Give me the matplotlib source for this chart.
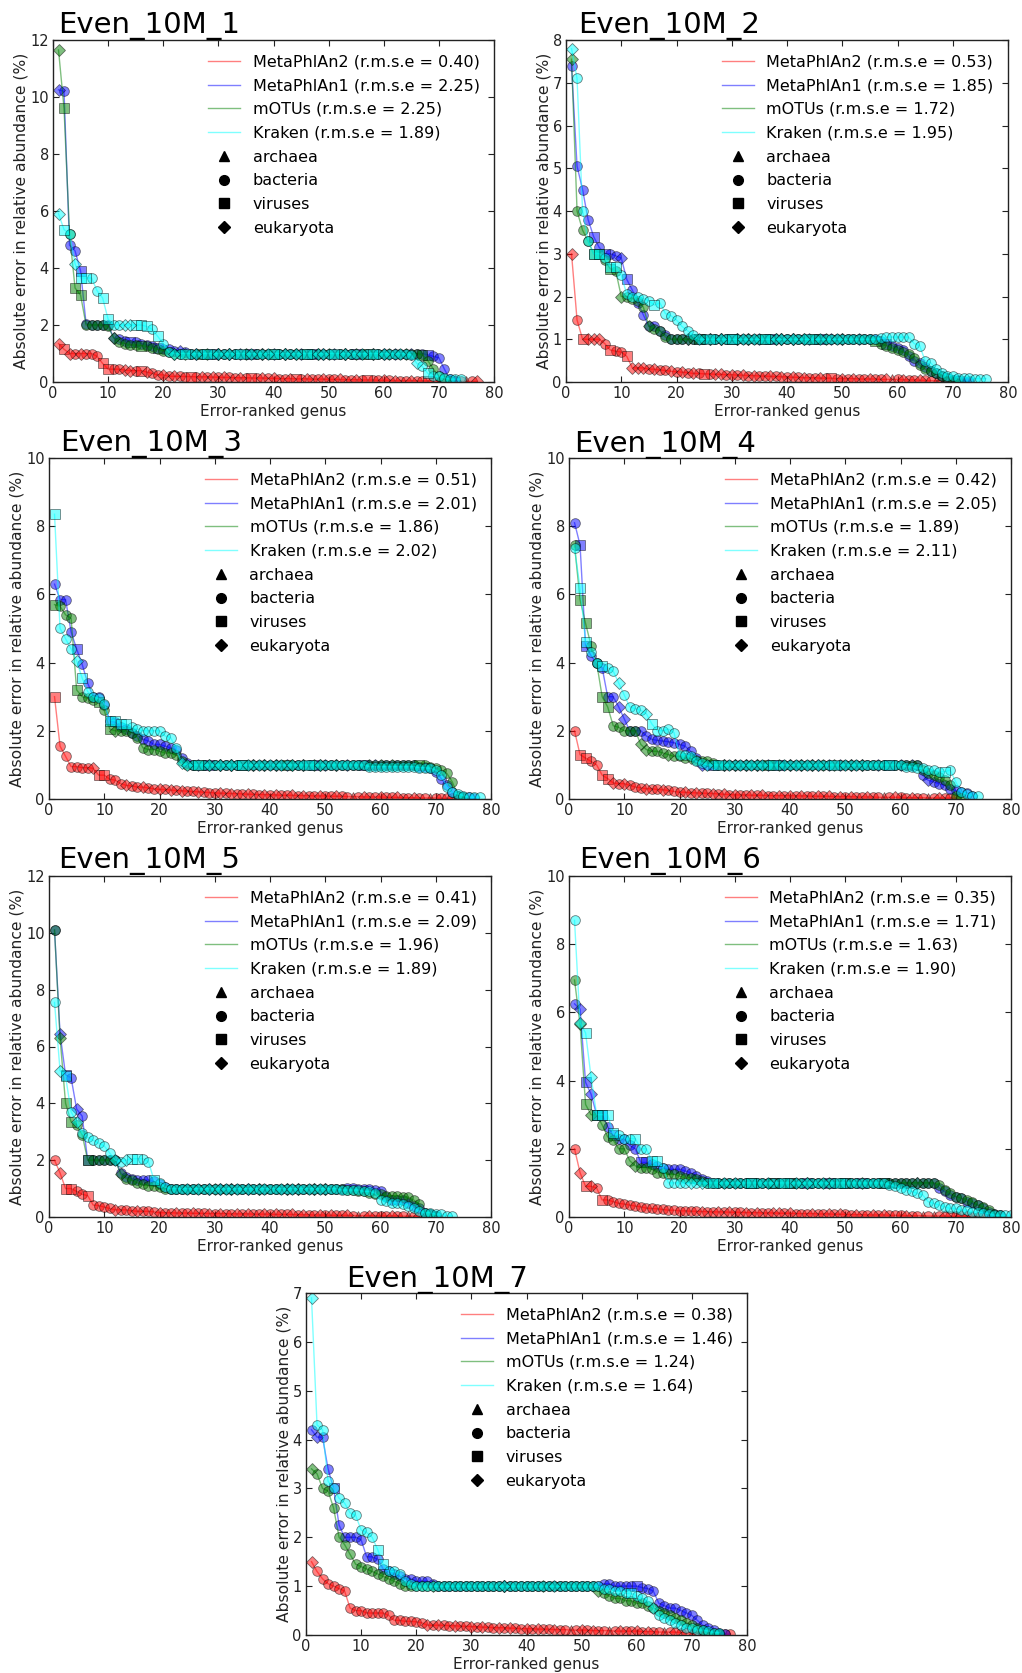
"""
Error-ranked genus plots for the seven Even_10M samples

Absolute error in relative abundance for four profilers, marker = kingdom
"""

import matplotlib
matplotlib.use('Agg')
import matplotlib.pyplot as plt
from matplotlib.lines import Line2D
import numpy as np


# ---------------------------------------------------------------- data
tools = ['MetaPhlAn2', 'MetaPhlAn1', 'mOTUs', 'Kraken']
kingdoms = ['archaea', 'bacteria', 'viruses', 'eukaryota']
kingdom_codes = ['a', 'b', 's', 'e']

sample_names = ['Even_10M_1', 'Even_10M_2', 'Even_10M_3', 'Even_10M_4',
                'Even_10M_5', 'Even_10M_6', 'Even_10M_7']
rmse = [
    [0.40, 2.25, 2.25, 1.89],
    [0.53, 1.85, 1.72, 1.95],
    [0.51, 2.01, 1.86, 2.02],
    [0.42, 2.05, 1.89, 2.11],
    [0.41, 2.09, 1.96, 1.89],
    [0.35, 1.71, 1.63, 1.90],
    [0.38, 1.46, 1.24, 1.64],
]
y_max = [12, 8, 10, 10, 12, 10, 7]
y_step = [2, 1, 2, 2, 2, 2, 1]

# Even_10M_1
p1_mpa2 = [
    1.35, 1.15, 1.0, 1.0, 1.0, 1.0, 1.0, 0.9, 0.65, 0.45,
    0.45, 0.45, 0.42, 0.4, 0.4, 0.4, 0.35, 0.3, 0.25, 0.25,
    0.2, 0.2, 0.2, 0.19, 0.19, 0.18, 0.18, 0.18, 0.17, 0.17,
    0.16, 0.16, 0.15, 0.15, 0.15, 0.14, 0.14, 0.14, 0.13, 0.13,
    0.12, 0.12, 0.12, 0.11, 0.11, 0.11, 0.1, 0.1, 0.1, 0.09,
    0.09, 0.09, 0.08, 0.08, 0.08, 0.07, 0.07, 0.07, 0.06, 0.06,
    0.06, 0.05, 0.05, 0.05, 0.05, 0.04, 0.04, 0.04, 0.04, 0.03,
    0.03, 0.03, 0.03, 0.02, 0.02, 0.02, 0.02,
]
p1_mpa1 = [
    10.25, 10.2, 4.8, 4.6, 3.9, 2.05, 2.0, 2.0, 2.0, 2.0,
    1.55, 1.5, 1.45, 1.4, 1.4, 1.35, 1.3, 1.25, 1.2, 1.15,
    1.15, 1.1, 1.1, 1.05, 1, 1, 1, 1, 1, 1,
    1, 1, 1, 1, 1, 1, 1, 1, 1, 1,
    1, 1, 1, 1, 1, 1, 1, 1, 1, 1,
    1, 1, 1, 1, 1, 1, 1, 1, 1, 1,
    1, 1, 1, 1, 1, 1, 1.0, 0.95, 0.9, 0.85,
    0.45, 0.1, 0.05,
]
p1_motus = [
    11.65, 9.6, 5.2, 3.3, 3.05, 2.0, 2.0, 2.0, 2.0, 1.95,
    1.55, 1.4, 1.35, 1.3, 1.3, 1.28, 1.25, 1.2, 1.15, 1.1,
    1.05, 1, 1, 1, 1, 1, 1, 1, 1, 1,
    1, 1, 1, 1, 1, 1, 1, 1, 1, 1,
    1, 1, 1, 1, 1, 1, 1, 1, 1, 1,
    1, 1, 1, 1, 1, 1, 1, 1, 1, 1,
    1, 1, 1, 1, 1, 1, 0.95, 0.75, 0.45, 0.2,
    0.1, 0.05,
]
p1_kraken = [
    5.9, 5.35, 5.2, 4.15, 3.65, 3.65, 3.65, 3.2, 2.95, 2.2,
    2.0, 2.0, 2.0, 2.0, 2.0, 2.0, 1.95, 1.85, 1.6, 1.35,
    1.05, 1, 1, 1, 1, 1, 1, 1, 1, 1,
    1, 1, 1, 1, 1, 1, 1, 1, 1, 1,
    1, 1, 1, 1, 1, 1, 1, 1, 1, 1,
    1, 1, 1, 1, 1, 1, 1, 1, 1, 1,
    1, 1, 1, 1, 0.95, 0.65, 0.55, 0.3, 0.2, 0.2,
    0.15, 0.1, 0.1, 0.1,
]
p1_kinds = [
    'esebebbbss bbeebsebbe bebbsbebeb ebbebsbebe bbesbebbeb bebbebsbbe bebbebbsba bbebabe',
    'ebbbsbbbbb ebbsbbbbsb bbebbebbse bebebsbebe bebbebsbeb ebebsbbebe bebbebbsbb bbb',
    'esbssbbbbb ebbbbsbbbb bebebbsebe bebbebbebs bebebsbebe bbebebsebb ebbebbsbbb bb',
    'esbessbbss bbeesssbsb bebsbebsbe bebsbebbes bebebsbeeb sbebbebsbe bbebbebsbb bbbb',
]

# Even_10M_2
p2_mpa2 = [
    3.0, 1.45, 1.0, 1.0, 1.0, 1.0, 0.9, 0.75, 0.72, 0.7,
    0.6, 0.33, 0.33, 0.33, 0.3, 0.3, 0.28, 0.27, 0.25, 0.24,
    0.23, 0.22, 0.2, 0.2, 0.19, 0.19, 0.18, 0.18, 0.17, 0.17,
    0.16, 0.16, 0.15, 0.15, 0.14, 0.14, 0.13, 0.13, 0.12, 0.12,
    0.11, 0.11, 0.1, 0.1, 0.1, 0.09, 0.09, 0.09, 0.08, 0.08,
    0.08, 0.08, 0.07, 0.07, 0.07, 0.07, 0.06, 0.06, 0.06, 0.06,
    0.05, 0.05, 0.05, 0.04, 0.04, 0.03, 0.03, 0.03, 0.02, 0.02,
    0.02, 0.01, 0.01,
]
p2_mpa1 = [
    7.4, 5.05, 4.5, 3.8, 3.4, 3.15, 3.0, 3.0, 2.95, 2.9,
    2.4, 2.15, 1.85, 1.57, 1.3, 1.3, 1.2, 1.1, 1.0, 1.0,
    1, 1, 1, 1, 1, 1, 1, 1, 1, 1,
    1, 1, 1, 1, 1, 1, 1, 1, 1, 1,
    1, 1, 1, 1, 1, 1, 1, 1, 1, 1,
    1, 1, 1, 1, 1, 1, 0.95, 0.9, 0.85, 0.8,
    0.75, 0.6, 0.5, 0.45, 0.35, 0.25, 0.2, 0.15, 0.1, 0.05,
    0.05, 0.03, 0.02,
]
p2_motus = [
    7.55, 4.0, 3.55, 3.3, 3.0, 3.0, 2.85, 2.65, 2.6, 2.0,
    2.0, 1.95, 1.9, 1.75, 1.3, 1.25, 1.2, 1.05, 1.0, 1.0,
    1, 1, 1, 1, 1, 1, 1, 1, 1, 1,
    1, 1, 1, 1, 1, 1, 1, 1, 1, 1,
    1, 1, 1, 1, 1, 1, 1, 1, 1, 1,
    1, 1, 1, 1, 1, 0.95, 0.9, 0.85, 0.8, 0.75,
    0.7, 0.65, 0.55, 0.4, 0.3, 0.25, 0.2, 0.15, 0.1, 0.05,
    0.02,
]
p2_kraken = [
    7.8, 7.1, 4.0, 3.3, 3.0, 3.0, 2.9, 2.7, 2.7, 2.5,
    2.05, 2.0, 2.0, 1.95, 1.9, 1.8, 1.85, 1.6, 1.55, 1.45,
    1.3, 1.2, 1.1, 1.0, 1, 1, 1, 1, 1, 1,
    1, 1, 1, 1, 1, 1, 1, 1, 1, 1,
    1, 1, 1, 1, 1, 1, 1, 1, 1, 1,
    1, 1, 1, 1, 1, 1, 1.02, 1.05, 1.05, 1.05,
    1.05, 1.05, 0.9, 0.85, 0.5, 0.45, 0.3, 0.2, 0.15, 0.15,
    0.1, 0.1, 0.1, 0.08, 0.08, 0.08,
]
p2_kinds = [
    'ebseeebsbb seeebebbeb ebebsbeebe bebebbebeb ebebbebsbe bebbebbeab ebbebbabeb bab',
    'bbbbsbsbbe sbbbbbbbbb bebsbebebs ebebebsbeb ebbebsbebe bbebbbbsbb bbbbbbbbbb bbb',
    'ebbbssbsbe bbbbebbbbb bebsbebebs ebebbsbeeb ebebsbebbe bbbbbsbbbb bbbbbbbbbb b',
    'ebbbssbssb bbbbbsbbbb bbbebsbebs bebebsbeeb ebesbebbeb bbbbbbbbbb bbbbbbbbbb bbbbbb',
]

# Even_10M_3
p3_mpa2 = [
    3.0, 1.55, 1.25, 0.95, 0.95, 0.92, 0.92, 0.9, 0.7, 0.7,
    0.58, 0.55, 0.45, 0.4, 0.38, 0.35, 0.35, 0.32, 0.3, 0.28,
    0.28, 0.26, 0.25, 0.24, 0.23, 0.22, 0.21, 0.2, 0.19, 0.18,
    0.17, 0.17, 0.16, 0.16, 0.15, 0.14, 0.14, 0.13, 0.13, 0.12,
    0.12, 0.11, 0.11, 0.11, 0.1, 0.1, 0.1, 0.09, 0.09, 0.09,
    0.08, 0.08, 0.08, 0.07, 0.07, 0.07, 0.06, 0.06, 0.06, 0.06,
    0.05, 0.05, 0.05, 0.04, 0.04, 0.04, 0.03, 0.03, 0.03, 0.03,
    0.02, 0.02, 0.02,
]
p3_mpa1 = [
    6.3, 5.85, 5.85, 4.9, 4.4, 3.95, 3.4, 3.0, 3.0, 2.75,
    2.3, 2.25, 2.1, 2.05, 1.95, 1.85, 1.75, 1.7, 1.6, 1.6,
    1.55, 1.5, 1.45, 1.2, 1.05, 1, 1, 1, 1, 1,
    1, 1, 1, 1, 1, 1, 1, 1, 1, 1,
    1, 1, 1, 1, 1, 1, 1, 1, 1, 1,
    1, 1, 1, 1, 1, 1, 1, 1, 1, 1,
    1, 1, 1, 1, 1, 1, 0.95, 0.95, 0.9, 0.8,
    0.6, 0.4, 0.2, 0.1, 0.05, 0.05, 0.03,
]
p3_motus = [
    5.7, 5.65, 5.4, 5.3, 3.2, 3.0, 2.95, 2.9, 2.85, 2.6,
    2.05, 2.0, 2.0, 2.0, 1.95, 1.8, 1.5, 1.45, 1.45, 1.4,
    1.35, 1.35, 1.3, 1.1, 1.0, 1, 1, 1, 1, 1,
    1, 1, 1, 1, 1, 1, 1, 1, 1, 1,
    1, 1, 1, 1, 1, 1, 1, 1, 1, 1,
    1, 1, 1, 1, 1, 1, 1, 1, 1, 1,
    1, 1, 1, 1, 1, 1, 1.0, 1.0, 0.95, 0.9,
    0.85, 0.75, 0.5, 0.1, 0.05,
]
p3_kraken = [
    8.35, 5.0, 4.7, 4.4, 4.05, 3.55, 3.15, 3.0, 2.95, 2.8,
    2.3, 2.3, 2.2, 2.2, 2.1, 2.05, 2.0, 2.0, 2.0, 2.0,
    1.85, 1.8, 1.5, 1.05, 1, 1, 1, 1, 1, 1,
    1, 1, 1, 1, 1, 1, 1, 1, 1, 1,
    1, 1, 1, 1, 1, 1, 1, 1, 1, 1,
    1, 1, 1, 1, 1, 1, 1, 0.95, 0.95, 0.95,
    0.95, 0.95, 0.95, 0.95, 0.95, 0.95, 0.92, 0.92, 0.9, 0.85,
    0.7, 0.35, 0.2, 0.15, 0.1, 0.05, 0.05, 0.05,
]
p3_kinds = [
    'sbbbbbbess bbbebbebbe bebebbebbb ebebbebbeb ebbebebbeb bebbabebbe bbebbebbab bbb',
    'bbbbsbbbbb bbbbbbbbbb bbbbbbebsb ebebsbebeb ebebbebsbe bebebbsbeb bbbbbbbbbb bbbbbbb',
    'sbbbsbbbsb sebbbbbbbb bbbbbbsbeb ebebsbebeb ebsebebeeb bebbbbbebe bebbbbsbbb bbbbb',
    'sbbbesbbbb ssssbbbbbb bbbeebsbeb ebebsebebe bebebbsbeb bbbbbbbbbb bbbbbbbbbb bbbbbbbb',
]

# Even_10M_4
p4_mpa2 = [
    2.0, 1.3, 1.2, 1.1, 1.0, 0.7, 0.6, 0.47, 0.45, 0.45,
    0.4, 0.35, 0.33, 0.3, 0.3, 0.28, 0.27, 0.25, 0.22, 0.2,
    0.2, 0.18, 0.18, 0.17, 0.17, 0.16, 0.15, 0.14, 0.13, 0.12,
    0.12, 0.12, 0.11, 0.11, 0.11, 0.1, 0.1, 0.1, 0.1, 0.1,
    0.09, 0.09, 0.09, 0.08, 0.08, 0.08, 0.08, 0.07, 0.07, 0.07,
    0.07, 0.06, 0.06, 0.06, 0.06, 0.05, 0.05, 0.05, 0.05, 0.05,
    0.04, 0.04, 0.04, 0.04, 0.03, 0.03, 0.03, 0.03, 0.03, 0.03,
]
p4_mpa1 = [
    8.1, 7.45, 4.5, 4.2, 4.0, 3.85, 3.0, 3.0, 2.7, 2.35,
    2.0, 2.0, 2.0, 1.85, 1.75, 1.72, 1.7, 1.68, 1.65, 1.6,
    1.55, 1.4, 1.2, 1.0, 1, 1, 1, 1, 1, 1,
    1, 1, 1, 1, 1, 1, 1, 1, 1, 1,
    1, 1, 1, 1, 1, 1, 1, 1, 1, 1,
    1, 1, 1, 1, 1, 1, 1, 1, 1, 1,
    1, 1, 1, 0.7, 0.55, 0.5, 0.45, 0.4, 0.3, 0.25,
    0.2, 0.18, 0.1,
]
p4_motus = [
    7.45, 5.85, 5.15, 4.5, 4.0, 3.0, 2.7, 2.15, 2.1, 2.0,
    2.0, 2.0, 1.6, 1.45, 1.4, 1.4, 1.35, 1.3, 1.25, 1.25,
    1.2, 1.2, 1.15, 1.1, 1.1, 1.05, 1, 1, 1, 1,
    1, 1, 1, 1, 1, 1, 1, 1, 1, 1,
    1, 1, 1, 1, 1, 1, 1, 1, 1, 1,
    1, 1, 1, 1, 1, 1, 1, 1, 1, 1,
    1, 1, 1, 0.85, 0.75, 0.7, 0.65, 0.55, 0.4, 0.1,
    0.02,
]
p4_kraken = [
    7.35, 6.2, 4.6, 4.3, 4.0, 3.9, 3.85, 3.75, 3.4, 3.05,
    2.7, 2.65, 2.6, 2.5, 2.2, 2.0, 2.0, 2.05, 1.95, 1.3,
    1.3, 1.25, 1.1, 1.05, 1, 1, 1, 1, 1, 1,
    1, 1, 1, 1, 1, 1, 1, 1, 1, 1,
    1, 1, 1, 1, 1, 1, 1, 1, 1, 1,
    1, 1, 1, 1, 1, 1, 1, 1, 1, 1,
    0.95, 0.95, 0.9, 0.9, 0.85, 0.85, 0.8, 0.8, 0.85, 0.5,
    0.2, 0.15, 0.1, 0.1,
]
p4_kinds = [
    'bssbbssebe bbbebbebbb ebebbebebe bbebebbebe bebbebebeb ebbebbabeb bebbabebbb',
    'bssbbbbbee bbbbbbbbbb bbbebsbebe bebebebsbe bebeebebeb ebebbebsbe bebbebbbbb bbb',
    'bssbbssbbb bbeebbbebb bebbbbbebe bebebsbebe bebebebebb ebebbbbbbb bbbbbbbbbb b',
    'bssbbsbbeb bbbesbbbbb bbbbebsbeb ebebebsbeb ebebebbsbe bebbbbbsbb bbbbbbbsbb bbbb',
]

# Even_10M_5
p5_mpa2 = [
    2.0, 1.55, 1.0, 1.0, 0.9, 0.8, 0.75, 0.42, 0.4, 0.35,
    0.3, 0.25, 0.25, 0.25, 0.22, 0.2, 0.2, 0.2, 0.18, 0.15,
    0.15, 0.15, 0.14, 0.14, 0.14, 0.13, 0.13, 0.13, 0.12, 0.12,
    0.12, 0.12, 0.11, 0.11, 0.11, 0.11, 0.1, 0.1, 0.1, 0.1,
    0.09, 0.09, 0.09, 0.09, 0.08, 0.08, 0.08, 0.07, 0.07, 0.07,
    0.06, 0.06, 0.06, 0.06, 0.05, 0.05, 0.05, 0.05, 0.05, 0.04,
    0.04, 0.04, 0.04, 0.03, 0.03, 0.03, 0.03,
]
p5_mpa1 = [
    10.1, 6.45, 5.0, 4.9, 3.8, 3.55, 2.0, 2.0, 2.0, 2.0,
    2.0, 2.0, 1.55, 1.4, 1.35, 1.3, 1.3, 1.3, 1.25, 1.15,
    1.05, 1, 1, 1, 1, 1, 1, 1, 1, 1,
    1, 1, 1, 1, 1, 1, 1, 1, 1, 1,
    1, 1, 1, 1, 1, 1, 1, 1, 1, 1,
    1, 1, 1, 1.02, 1.02, 1.0, 1.0, 1.0, 0.95, 0.9,
    0.7, 0.6, 0.6, 0.6, 0.5, 0.4, 0.3, 0.15, 0.1, 0.05,
]
p5_motus = [
    10.1, 6.3, 4.0, 3.35, 3.25, 2.9, 2.0, 2.0, 2.0, 2.0,
    2.0, 2.0, 1.5, 1.35, 1.3, 1.2, 1.15, 1.1, 1.1, 1.05,
    1, 1, 1, 1, 1, 1, 1, 1, 1, 1,
    1, 1, 1, 1, 1, 1, 1, 1, 1, 1,
    1, 1, 1, 1, 1, 1, 1, 1, 1, 1,
    1, 1, 1, 0.95, 0.95, 0.9, 0.9, 0.85, 0.8, 0.8,
    0.75, 0.75, 0.75, 0.7, 0.7, 0.6, 0.45, 0.15, 0.1, 0.05,
]
p5_kraken = [
    7.55, 5.15, 4.95, 3.7, 3.35, 2.95, 2.8, 2.7, 2.6, 2.5,
    2.25, 2.0, 1.95, 2.0, 2.05, 2.05, 2.05, 1.95, 1.3, 1.2,
    1.05, 1, 1, 1, 1, 1, 1, 1, 1, 1,
    1, 1, 1, 1, 1, 1, 1, 1, 1, 1,
    1, 1, 1, 1, 1, 1, 1, 1, 1, 1,
    1, 1, 0.95, 0.95, 0.95, 0.95, 0.9, 0.9, 0.85, 0.6,
    0.55, 0.5, 0.5, 0.45, 0.4, 0.3, 0.2, 0.15, 0.15, 0.1,
    0.1, 0.05, 0.05,
]
p5_kinds = [
    'bessbbsbbb bebbbebbbe bbebbebbeb ebbebebbeb ebbebebbeb ebbebabebb bebbabe',
    'besbebsbbb bbbbbbbbbb bbbbbbbbeb ebebbebebb bbebebbebe bbbbbbbbbb bbbbbbbbbb',
    'bessbbsbbb bbebbbbbbb bbbbbbbbbe bbebbbbebb bbebebbebe bbbbbbbbbb bbbbbbbbbb',
    'besbebbbbb bebessbbsb bbbbebebeb eebebebbeb bebebbebeb bbbbbbbbbb bbbbbbbbbb bbb',
]

# Even_10M_6
p6_mpa2 = [
    2.0, 1.3, 0.9, 0.9, 0.85, 0.5, 0.5, 0.45, 0.4, 0.38,
    0.35, 0.32, 0.3, 0.26, 0.25, 0.24, 0.22, 0.2, 0.2, 0.18,
    0.18, 0.17, 0.17, 0.16, 0.16, 0.15, 0.15, 0.15, 0.14, 0.14,
    0.14, 0.13, 0.13, 0.13, 0.12, 0.12, 0.12, 0.11, 0.11, 0.11,
    0.1, 0.1, 0.1, 0.1, 0.09, 0.09, 0.09, 0.08, 0.08, 0.08,
    0.07, 0.07, 0.07, 0.06, 0.06, 0.06, 0.06, 0.05, 0.05, 0.05,
    0.04, 0.04, 0.04, 0.04, 0.03, 0.03, 0.03, 0.03, 0.02, 0.02,
    0.02, 0.02, 0.01, 0.01, 0.01,
]
p6_mpa1 = [
    6.25, 6.1, 3.95, 3.6, 3.0, 3.0, 2.65, 2.4, 2.3, 2.3,
    2.1, 2.0, 1.6, 1.6, 1.55, 1.5, 1.45, 1.4, 1.4, 1.4,
    1.35, 1.3, 1.2, 1.1, 1.05, 1, 1, 1, 1, 1,
    1, 1, 1, 1, 1, 1, 1, 1, 1, 1,
    1, 1, 1, 1, 1, 1, 1, 1, 1, 1,
    1, 1, 1, 1, 1, 1, 1, 1, 1, 1,
    1, 1, 1, 1, 1, 1.0, 0.85, 0.75, 0.65, 0.6,
    0.55, 0.45, 0.4, 0.35, 0.25, 0.15, 0.1, 0.05,
]
p6_motus = [
    6.95, 5.65, 3.3, 3.0, 3.0, 2.7, 2.35, 2.25, 2.0, 2.0,
    1.65, 1.5, 1.45, 1.45, 1.4, 1.3, 1.3, 1.25, 1.25, 1.2,
    1.15, 1.15, 1.1, 1.05, 1, 1, 1, 1, 1, 1,
    1, 1, 1, 1, 1, 1, 1, 1, 1, 1,
    1, 1, 1, 1, 1, 1, 1, 1, 1, 1,
    1, 1, 1, 1, 1, 1, 1, 1, 1, 1,
    1, 1, 1, 1, 1, 1, 0.95, 0.8, 0.7, 0.6,
    0.55, 0.5, 0.45, 0.35, 0.3, 0.2, 0.1, 0.05,
]
p6_kraken = [
    8.7, 5.7, 5.4, 4.1, 3.0, 3.0, 3.0, 2.45, 2.4, 2.3,
    2.3, 2.3, 2.0, 2.0, 1.65, 1.65, 1.45, 1.0, 1, 1,
    1, 1, 1, 1, 1, 1, 1, 1, 1, 1,
    1, 1, 1, 1, 1, 1, 1, 1, 1, 1,
    1, 1, 1, 1, 1, 1, 1, 1, 1, 1,
    1, 1, 1, 1, 1, 1, 1, 0.95, 0.9, 0.85,
    0.8, 0.75, 0.7, 0.65, 0.45, 0.4, 0.35, 0.3, 0.25, 0.25,
    0.2, 0.2, 0.15, 0.15, 0.12, 0.1, 0.05, 0.05, 0.05, 0.05,
]
p6_kinds = [
    'besebsbbbb bbbbbbbbbb bbbebbebeb bebebbeebe bbbebbebeb bebbebebbb ebbababebb ebbbb',
    'besessbsbb bbssbbbbbb bbbbbbbbbb bbsbbbsbbs bbsbbbsbbs bbsbbbsbbb bbebbbbbbb bbbbbbbb',
    'besesbbbbb bebbbbbbbb bbbbbbbbbb bbsbbbsbbs bbebbbebbs bbebbbsbbb bbebbbbbbb bbbbbbbb',
    'besessssbb bsbbssbbbb bebebsbebe bbsbbebbsb ebebbebbsb bbbbbbbbbb bbbbbbbbbb bbbbbbbbbb',
]

# Even_10M_7
p7_mpa2 = [
    1.5, 1.3, 1.15, 1.05, 1.0, 0.95, 0.9, 0.55, 0.5, 0.5,
    0.45, 0.45, 0.45, 0.45, 0.4, 0.3, 0.3, 0.28, 0.28, 0.27,
    0.25, 0.2, 0.2, 0.2, 0.2, 0.19, 0.19, 0.18, 0.18, 0.17,
    0.17, 0.16, 0.16, 0.15, 0.15, 0.15, 0.14, 0.14, 0.13, 0.13,
    0.13, 0.12, 0.12, 0.12, 0.11, 0.11, 0.11, 0.1, 0.1, 0.1,
    0.1, 0.09, 0.09, 0.09, 0.09, 0.08, 0.08, 0.08, 0.08, 0.08,
    0.07, 0.07, 0.07, 0.06, 0.06, 0.06, 0.06, 0.05, 0.05, 0.05,
    0.04, 0.04, 0.04, 0.03, 0.03, 0.02, 0.02,
]
p7_mpa1 = [
    4.2, 4.05, 4.05, 3.4, 3.0, 2.25, 2.0, 2.0, 2.0, 1.95,
    1.6, 1.6, 1.55, 1.35, 1.3, 1.25, 1.2, 1.15, 1.15, 1.1,
    1.1, 1.1, 1.05, 1.0, 1, 1, 1, 1, 1, 1,
    1, 1, 1, 1, 1, 1, 1, 1, 1, 1,
    1, 1, 1, 1, 1, 1, 1, 1, 1, 1,
    1, 1, 1, 1.05, 1.05, 1.0, 1.0, 1.0, 1.0, 1.0,
    0.97, 0.95, 0.9, 0.65, 0.6, 0.55, 0.55, 0.5, 0.45, 0.4,
    0.3, 0.2, 0.15, 0.1, 0.05, 0.02,
]
p7_motus = [
    3.4, 3.3, 3.0, 2.95, 2.6, 2.0, 1.85, 1.65, 1.45, 1.4,
    1.35, 1.3, 1.25, 1.2, 1.15, 1.1, 1.05, 1.0, 1, 1,
    1, 1, 1, 1, 1, 1, 1, 1, 1, 1,
    1, 1, 1, 1, 1, 1, 1, 1, 1, 1,
    1, 1, 1, 1, 1, 1, 1, 1, 1, 1,
    1, 1, 0.9, 0.85, 0.8, 0.75, 0.75, 0.7, 0.7, 0.65,
    0.65, 0.6, 0.55, 0.5, 0.45, 0.4, 0.35, 0.3, 0.25, 0.2,
    0.15, 0.1, 0.05, 0.05, 0.02,
]
p7_kraken = [
    6.9, 4.3, 4.2, 3.15, 3.0, 2.8, 2.7, 2.5, 2.45, 2.15,
    2.1, 2.0, 1.75, 1.45, 1.3, 1.3, 1.25, 1.1, 1.05, 1.0,
    1, 1, 1, 1, 1, 1, 1, 1, 1, 1,
    1, 1, 1, 1, 1, 1, 1, 1, 1, 1,
    1, 1, 1, 1, 1, 1, 1, 1, 1, 1,
    1, 1, 1, 0.95, 0.95, 0.9, 0.9, 0.85, 0.85, 0.8,
    0.75, 0.7, 0.55, 0.4, 0.35, 0.3, 0.25, 0.2, 0.15, 0.15,
    0.1, 0.1, 0.08, 0.05, 0.05,
]
p7_kinds = [
    'ebbbbbbbbb bbbbbbbbbb bebebbebbe bebbebebbe bebbebbabe bebbabebbe bebbabebba bbbbbbb',
    'bebbsbbbbb bbbbbbbbbb bbbbbbbbbb bbbbbebbbb bbbbbbbbbb bbbbbbbbbs bbbbbbbbbb bbbbbb',
    'ebbbbbbbbb bbbbbbbbbb bbebbbbbbb bbbbbebbbb bbebbbbbbb bbebbbbbbb bbbbbbbbbb bbbbb',
    'ebbbbbbbbb bbssbbbbbb bbbbbbbbbb bbbbbebbbb bbbbebbbbb bbbbbbbbsb bbebbbbbbb bbbbb',
]

all_series = [
    [p1_mpa2, p1_mpa1, p1_motus, p1_kraken],
    [p2_mpa2, p2_mpa1, p2_motus, p2_kraken],
    [p3_mpa2, p3_mpa1, p3_motus, p3_kraken],
    [p4_mpa2, p4_mpa1, p4_motus, p4_kraken],
    [p5_mpa2, p5_mpa1, p5_motus, p5_kraken],
    [p6_mpa2, p6_mpa1, p6_motus, p6_kraken],
    [p7_mpa2, p7_mpa1, p7_motus, p7_kraken],
]
all_kinds = [p1_kinds, p2_kinds, p3_kinds, p4_kinds, p5_kinds, p6_kinds, p7_kinds]


# ---------------------------------------------------------------- layout
W, H = 1022, 1673
tool_colors = ['red', 'blue', 'green', 'cyan']
kingdom_markers = {'a': '^', 'b': 'o', 's': 's', 'e': 'D'}
marker_sizes = {'a': 7.5, 'b': 7, 's': 6.5, 'e': 6}
legend_marker_sizes = {'a': 7.5, 'b': 7, 's': 6.5, 'e': 6.5}

# axes boxes in pixels: left, top, right, bottom
axes_px = [
    (53, 40, 494, 382),
    (566, 40, 1008, 382),
    (49, 458, 491, 799),
    (569, 458, 1011, 799),
    (49, 876, 491, 1217),
    (569, 876, 1011, 1217),
    (306, 1293, 747, 1635),
]
# sample title: left edge and baseline, pixels
title_px = [(58, 33), (578, 33), (60, 451), (574, 452),
            (58, 868), (579, 868), (346, 1287)]


def draw_panel(fig, idx):
    l, t, r, b = axes_px[idx]
    ax = fig.add_axes([l / W, 1 - b / H, (r - l) / W, (b - t) / H])

    for tool_idx, (vals, kinds) in enumerate(zip(all_series[idx], all_kinds[idx])):
        color = tool_colors[tool_idx]
        y = np.array(vals, dtype=float)
        x = np.arange(1, len(y) + 1)
        codes = np.array(list(''.join(kinds.split())))
        if len(codes) != len(y):
            raise ValueError(f'{sample_names[idx]} {tools[tool_idx]}: {len(codes)} codes, {len(y)} values')

        ax.plot(x, y, color=color, alpha=0.5, lw=1)
        for code in kingdom_codes:
            mask = codes == code
            if not mask.any():
                continue
            ax.plot(x[mask], y[mask], ls='none', marker=kingdom_markers[code],
                    ms=marker_sizes[code], mfc=color, mec='k', mew=0.6, alpha=0.5)

    ax.set_xlim(0, 80)
    ax.set_ylim(0, y_max[idx])
    ax.set_xticks(np.arange(0, 81, 10))
    ax.set_yticks(np.arange(0, y_max[idx] + 0.01, y_step[idx]))
    ax.tick_params(direction='in', top=True, right=True, length=4, width=0.8,
                   labelsize=10.5, colors='#222222', pad=3)
    for s in ax.spines.values():
        s.set_color('#222222')
        s.set_linewidth(1)

    ax.set_xlabel('Error-ranked genus', fontsize=11, color='#222222', labelpad=2)
    ax.set_ylabel('Absolute error in relative abundance (%)', fontsize=11.2,
                  color='#222222', labelpad=1)

    # legend: tools as lines, kingdoms as black markers
    handles = [Line2D([], [], color=c, alpha=0.5, lw=1) for c in tool_colors]
    labels = [f'{t} (r.m.s.e = {v:.2f})' for t, v in zip(tools, rmse[idx])]
    for code, name in zip(kingdom_codes, kingdoms):
        handles.append(Line2D([], [], ls='none', marker=kingdom_markers[code],
                              color='k', ms=legend_marker_sizes[code]))
        labels.append(name)
    ax.legend(handles, labels, loc='upper right', frameon=False, fontsize=11.5,
              labelspacing=0.55, handlelength=2.0, handletextpad=0.8,
              borderaxespad=0.5, numpoints=1)

    tx, ty = title_px[idx]
    fig.text(tx / W, 1 - ty / H, sample_names[idx], fontsize=21,
             ha='left', va='baseline', color='black')


def main():
    fig = plt.figure(figsize=(W / 100, H / 100), dpi=100)
    fig.patch.set_facecolor('white')
    for idx in range(len(sample_names)):
        draw_panel(fig, idx)
    fig.savefig('out.png', dpi=100)
    plt.close(fig)


if __name__ == '__main__':
    main()
